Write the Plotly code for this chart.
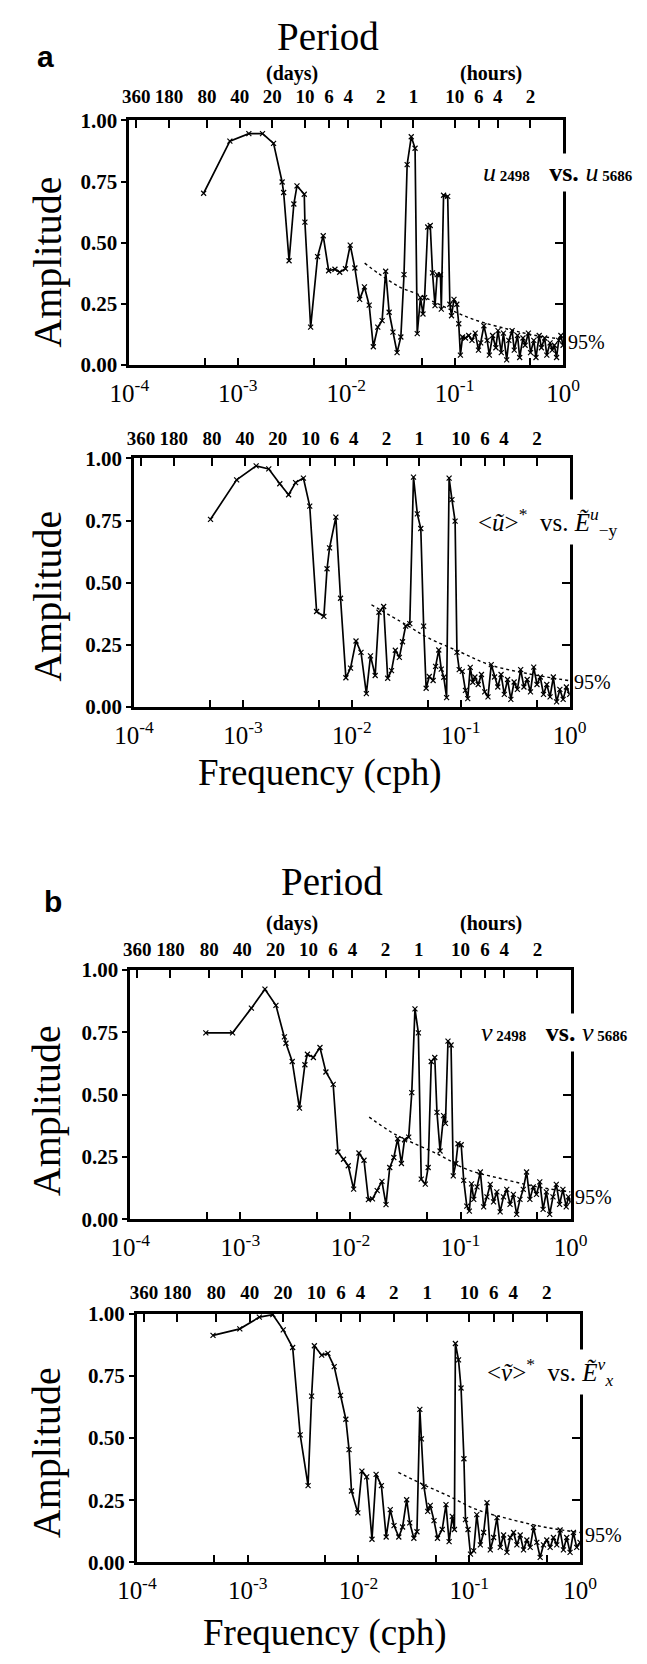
import plotly.graph_objects as go

W, H = 647, 1664

# ---------------- data (log10 frequency in cph, amplitude) ----------------
p1_logf = [-3.315, -3.073, -2.898, -2.772, -2.670, -2.591, -2.577, -2.527, -2.483, -2.454,
           -2.387, -2.381, -2.328, -2.264, -2.212, -2.162, -2.104, -2.060, -2.007, -1.963,
           -1.920, -1.876, -1.832, -1.788, -1.750, -1.709, -1.669, -1.636, -1.604, -1.569,
           -1.531, -1.496, -1.467, -1.438, -1.400, -1.365, -1.345, -1.315, -1.292, -1.277,
           -1.248, -1.225, -1.204, -1.181, -1.161, -1.131, -1.123, -1.102, -1.064, -1.044,
           -1.029, -1.006, -0.980, -0.962, -0.947, -0.927,
           -0.90, -0.87, -0.84, -0.81, -0.78, -0.76, -0.73, -0.70, -0.68, -0.65,
           -0.62, -0.60, -0.57, -0.55, -0.52, -0.50, -0.47, -0.45, -0.42, -0.40,
           -0.37, -0.35, -0.32, -0.30, -0.27, -0.25, -0.22, -0.20, -0.17, -0.15,
           -0.12, -0.10, -0.08, -0.06, -0.04, -0.02, 0.00]
p1_amp = [0.702, 0.915, 0.946, 0.946, 0.906, 0.748, 0.705, 0.426, 0.658, 0.732,
          0.698, 0.584, 0.154, 0.443, 0.528, 0.385, 0.391, 0.379, 0.393, 0.490,
          0.396, 0.268, 0.319, 0.244, 0.074, 0.154, 0.181, 0.383, 0.215, 0.134,
          0.050, 0.114, 0.369, 0.819, 0.933, 0.886, 0.128, 0.275, 0.208, 0.275,
          0.564, 0.570, 0.376, 0.242, 0.369, 0.369, 0.228, 0.694, 0.689, 0.248,
          0.201, 0.268, 0.248, 0.168, 0.040, 0.114,
          0.11, 0.12, 0.10, 0.13, 0.06, 0.09, 0.16, 0.10, 0.04, 0.12,
          0.07, 0.14, 0.05, 0.13, 0.02, 0.10, 0.14, 0.06, 0.12, 0.03,
          0.11, 0.08, 0.13, 0.05, 0.10, 0.03, 0.12, 0.07, 0.11, 0.04,
          0.09, 0.06, 0.08, 0.03, 0.10, 0.12, 0.08]
p1_sig_logf = [-1.83, -1.70, -1.51, -1.34, -1.16, -0.84, -0.50, -0.25, 0.00]
p1_sig_amp = [0.416, 0.373, 0.319, 0.289, 0.251, 0.188, 0.145, 0.120, 0.105]

p2_logf = [-3.298, -3.058, -2.879, -2.763, -2.662, -2.581, -2.517, -2.445, -2.387, -2.324,
           -2.257, -2.228, -2.205, -2.147, -2.104, -2.055, -2.012, -1.962, -1.916, -1.867,
           -1.829, -1.786, -1.751, -1.708, -1.671, -1.636, -1.601, -1.564, -1.535, -1.506,
           -1.468, -1.434, -1.399, -1.367, -1.341, -1.318, -1.289, -1.254, -1.231, -1.202,
           -1.179, -1.156, -1.130, -1.107, -1.081, -1.052, -1.035, -1.014, -0.986, -0.957,
           -0.936, -0.913, -0.890,
           -0.87, -0.84, -0.81, -0.78, -0.75, -0.72, -0.69, -0.66, -0.63, -0.60,
           -0.57, -0.54, -0.51, -0.48, -0.45, -0.42, -0.39, -0.36, -0.33, -0.30,
           -0.27, -0.24, -0.21, -0.18, -0.15, -0.12, -0.09, -0.06, -0.03, 0.00]
p2_amp = [0.755, 0.914, 0.970, 0.958, 0.898, 0.854, 0.903, 0.921, 0.808, 0.384,
          0.364, 0.556, 0.640, 0.764, 0.437, 0.117, 0.156, 0.265, 0.219, 0.053,
          0.205, 0.126, 0.381, 0.404, 0.115, 0.146, 0.228, 0.199, 0.262, 0.325,
          0.335, 0.925, 0.777, 0.718, 0.325, 0.075, 0.122, 0.106, 0.163, 0.229,
          0.152, 0.119, 0.037, 0.921, 0.834, 0.748, 0.219, 0.150, 0.143, 0.066,
          0.033, 0.159, 0.099,
          0.12, 0.09, 0.13, 0.06, 0.04, 0.17, 0.12, 0.08, 0.13, 0.05,
          0.11, 0.03, 0.10, 0.07, 0.15, 0.08, 0.11, 0.06, 0.16, 0.09,
          0.12, 0.05, 0.09, 0.04, 0.12, 0.02, 0.07, 0.03, 0.08, 0.05]
p2_sig_logf = [-1.82, -1.50, -1.30, -1.00, -0.74, -0.40, 0.00]
p2_sig_amp = [0.411, 0.330, 0.278, 0.220, 0.170, 0.135, 0.105]

p3_logf = [-3.314, -3.071, -2.900, -2.777, -2.677, -2.600, -2.586, -2.529, -2.463, -2.414,
           -2.391, -2.337, -2.277, -2.223, -2.157, -2.114, -2.063, -2.020, -1.971, -1.923,
           -1.877, -1.837, -1.800, -1.757, -1.714, -1.677, -1.643, -1.606, -1.571, -1.537,
           -1.509, -1.471, -1.443, -1.414, -1.383, -1.357, -1.320, -1.294, -1.266, -1.234,
           -1.214, -1.186, -1.154, -1.137, -1.114, -1.086, -1.066, -1.043, -1.023, -0.994,
           -0.971, -0.943, -0.920, -0.900,
           -0.88, -0.85, -0.82, -0.79, -0.76, -0.73, -0.70, -0.67, -0.64, -0.61,
           -0.58, -0.55, -0.52, -0.49, -0.46, -0.43, -0.40, -0.37, -0.34, -0.31,
           -0.28, -0.25, -0.22, -0.19, -0.16, -0.13, -0.10, -0.07, -0.04, -0.02, 0.00]
p3_amp = [0.748, 0.748, 0.847, 0.923, 0.858, 0.732, 0.706, 0.633, 0.446, 0.620,
          0.662, 0.649, 0.689, 0.591, 0.541, 0.270, 0.241, 0.215, 0.121, 0.266,
          0.237, 0.079, 0.082, 0.115, 0.152, 0.059, 0.208, 0.248, 0.323, 0.224,
          0.319, 0.330, 0.508, 0.844, 0.748, 0.161, 0.141, 0.208, 0.633, 0.649,
          0.429, 0.274, 0.416, 0.385, 0.715, 0.699, 0.174, 0.224, 0.303, 0.299,
          0.156, 0.053, 0.033, 0.142,
          0.08, 0.13, 0.19, 0.05, 0.09, 0.14, 0.07, 0.11, 0.03, 0.09,
          0.12, 0.06, 0.10, 0.02, 0.08, 0.12, 0.19, 0.08, 0.13, 0.10,
          0.15, 0.04, 0.11, 0.02, 0.09, 0.14, 0.06, 0.12, 0.05, 0.09, 0.07]
p3_sig_logf = [-1.83, -1.63, -1.50, -1.20, -0.94, -0.60, -0.30, 0.00]
p3_sig_amp = [0.410, 0.350, 0.320, 0.260, 0.200, 0.160, 0.130, 0.110]

p4_logf = [-3.313, -3.071, -2.895, -2.773, -2.679, -2.594, -2.526, -2.455, -2.423, -2.398,
           -2.332, -2.276, -2.219, -2.162, -2.114, -2.085, -2.063, -2.006, -1.969, -1.926,
           -1.878, -1.841, -1.793, -1.750, -1.713, -1.679, -1.636, -1.602, -1.565, -1.537,
           -1.500, -1.472, -1.446, -1.432, -1.409, -1.375, -1.352, -1.318, -1.287, -1.244,
           -1.210, -1.182, -1.153, -1.134, -1.125, -1.097, -1.074, -1.048, -1.034, -1.011,
           -0.989, -0.960, -0.932,
           -0.90, -0.87, -0.84, -0.81, -0.78, -0.75, -0.72, -0.69, -0.66, -0.63,
           -0.60, -0.57, -0.54, -0.51, -0.48, -0.45, -0.42, -0.39, -0.36, -0.33,
           -0.30, -0.27, -0.24, -0.21, -0.18, -0.15, -0.12, -0.09, -0.06, -0.03, 0.00]
p4_amp = [0.914, 0.940, 0.987, 0.997, 0.936, 0.865, 0.513, 0.309, 0.669, 0.872,
          0.834, 0.841, 0.788, 0.672, 0.576, 0.454, 0.287, 0.199, 0.367, 0.344,
          0.093, 0.354, 0.309, 0.102, 0.212, 0.148, 0.102, 0.142, 0.252, 0.159,
          0.097, 0.123, 0.616, 0.497, 0.305, 0.205, 0.229, 0.168, 0.097, 0.132,
          0.232, 0.083, 0.185, 0.132, 0.881, 0.815, 0.702, 0.417, 0.172, 0.132,
          0.033, 0.046, 0.192,
          0.07, 0.12, 0.24, 0.05, 0.10, 0.18, 0.06, 0.11, 0.04, 0.10,
          0.12, 0.07, 0.11, 0.05, 0.09, 0.06, 0.14, 0.08, 0.02, 0.07,
          0.09, 0.06, 0.10, 0.07, 0.13, 0.05, 0.10, 0.04, 0.12, 0.06, 0.08]
p4_sig_logf = [-1.64, -1.40, -1.20, -0.93, -0.60, -0.30, 0.00]
p4_sig_amp = [0.362, 0.310, 0.270, 0.212, 0.170, 0.140, 0.120]

# period (top) axis
period_days = [360, 180, 80, 40, 20, 10, 6, 4, 2, 1]
period_hours = [10, 6, 4, 2]
period_labels = ["360", "180", "80", "40", "20", "10", "6", "4", "2", "1", "10", "6", "4", "2"]

freq_tickvals = [1e-4, 5e-4, 1e-3, 5e-3, 1e-2, 5e-2, 1e-1, 5e-1, 1.0]
freq_ticktext = ["10<sup>-4</sup>", "", "10<sup>-3</sup>", "", "10<sup>-2</sup>", "",
                 "10<sup>-1</sup>", "", "10<sup>0</sup>"]
amp_tickvals = [0.0, 0.25, 0.5, 0.75, 1.0]
amp_ticktext = ["0.00", "0.25", "0.50", "0.75", "1.00"]

# ---------------- layout helpers ----------------
SERIF = "Liberation Serif"
SANS = "Liberation Sans"


def px_x(x):
    return x / W


def px_y(y):
    return 1 - y / H


# panel pixel boxes: (left, right, top, bottom) and top-label standoff
boxes = [(116, 576, 110, 358), (121, 583, 453, 705), (117, 584, 972, 1225), (124, 594, 1321, 1573)]
top_standoff = [7, 3, 3, 4]
series = [(p1_logf, p1_amp, p1_sig_logf, p1_sig_amp),
          (p2_logf, p2_amp, p2_sig_logf, p2_sig_amp),
          (p3_logf, p3_amp, p3_sig_logf, p3_sig_amp),
          (p4_logf, p4_amp, p4_sig_logf, p4_sig_amp)]

period_vals = [1.0 / (24 * d) for d in period_days] + [1.0 / h for h in period_hours]

fig = go.Figure()
layout = dict(width=W, height=H, margin=dict(l=0, r=0, t=0, b=0),
              paper_bgcolor="white", plot_bgcolor="white", showlegend=False)

for i, (box, (lf, amp, slf, samp)) in enumerate(zip(boxes, series)):
    xb, xt = 2 * i + 1, 2 * i + 2
    yl, yr = 2 * i + 1, 2 * i + 2
    l, r, t, b = box
    xdom = [px_x(l), px_x(r)]
    ydom = [px_y(b), px_y(t)]
    fig.add_trace(go.Scatter(
        x=[10 ** v for v in lf], y=amp, mode="lines+markers",
        line=dict(color="black", width=1.7),
        marker=dict(symbol="x-thin", size=5, line=dict(color="black", width=1.2)),
        xaxis=f"x{xb}", yaxis=f"y{yl}", hoverinfo="skip"))
    fig.add_trace(go.Scatter(
        x=[10 ** v for v in slf], y=samp, mode="lines",
        line=dict(color="black", width=1.4, dash="dot", shape="spline"),
        xaxis=f"x{xt}", yaxis=f"y{yr}", hoverinfo="skip"))

    common_x = dict(type="log", range=[-4, 0], showgrid=False, zeroline=False,
                    showline=True, linecolor="black", linewidth=2.8)
    layout[f"xaxis{xb}"] = dict(common_x, domain=xdom, anchor=f"y{yl}", side="bottom",
                                ticks="inside", ticklen=7, tickwidth=1.6, tickcolor="black",
                                tickmode="array", tickvals=freq_tickvals, ticktext=freq_ticktext,
                                tickfont=dict(family=SERIF, size=25, color="black"),
                                ticklabelstandoff=4)
    layout[f"xaxis{xt}"] = dict(common_x, overlaying=f"x{xb}", anchor=f"y{yl}", side="top",
                                ticks="inside", ticklen=8, tickwidth=1.6, tickcolor="black",
                                tickmode="array", tickvals=period_vals, ticktext=period_labels,
                                tickfont=dict(family=SERIF, size=19, color="black", weight="bold"),
                                ticklabelstandoff=top_standoff[i])
    common_y = dict(range=[0, 1], showgrid=False, zeroline=False, showline=True,
                    linecolor="black", linewidth=2.8, tickmode="array", tickvals=amp_tickvals)
    layout[f"yaxis{yl}"] = dict(common_y, domain=ydom, anchor=f"x{xb}", side="left",
                                ticks="outside", ticklen=5, tickwidth=1.6, tickcolor="black",
                                ticktext=amp_ticktext,
                                tickfont=dict(family=SERIF, size=21, color="black", weight="bold"))
    layout[f"yaxis{yr}"] = dict(common_y, overlaying=f"y{yl}", anchor=f"x{xb}", side="right",
                                ticks="inside", ticklen=8, tickwidth=1.6, tickcolor="black",
                                showticklabels=False)

fig.update_layout(**layout)

ann = []


def text(x, y, s, size, family=SERIF, xanchor="center", yanchor="middle", bold=False,
         angle=0, bg=None, italic=False):
    d = dict(x=px_x(x), y=px_y(y), xref="paper", yref="paper", text=s, showarrow=False,
             xanchor=xanchor, yanchor=yanchor, textangle=angle,
             font=dict(family=family, size=size, color="black",
                       weight="bold" if bold else "normal",
                       style="italic" if italic else "normal"))
    if bg:
        d["bgcolor"] = bg
        d["borderpad"] = 4
    ann.append(d)


# titles / panel letters
text(327, 25, "Period", 39)
text(331, 882, "Period", 39)
text(27, 45, "a", 30, family=SANS, bold=True)
text(35, 903, "b", 30, family=SANS, bold=True)
for yy in (62, 925):
    text(288, yy, "(days)", 20, bold=True)
    text(500, yy, "(hours)", 20, bold=True)

# axis titles
for yy in (254, 593, 1115, 1462):
    text(29, yy, "Amplitude", 40, angle=-90)
text(318, 772, "Frequency (cph)", 37)
text(323, 1645, "Frequency (cph)", 37)

# series labels
text(486, 163,
     "<i>u</i><span style='font-size:15px'><b> 2498</b></span><b>   vs. </b>"
     "<i>u</i><span style='font-size:15px'><b> 5686</b></span>",
     26, xanchor="left", bg="white")
text(480, 517,
     "&lt;<i>ũ</i>&gt;<sup>*</sup>  vs. <i>Ẽ</i><sup><i>u</i></sup><sub>−y</sub>",
     25, xanchor="left", bg="white")
text(484, 1035,
     "<i>v</i><span style='font-size:15px'><b> 2498</b></span><b>   vs. </b>"
     "<i>v</i><span style='font-size:15px'><b> 5686</b></span>",
     26, xanchor="left", bg="white")
text(490, 1380,
     "&lt;<i>ṽ</i>&gt;<sup>*</sup>  vs. <i>Ẽ</i><sup><i>v</i></sup><sub><i>x</i></sub>",
     25, xanchor="left", bg="white")

# 95% labels
for (xx, yy) in ((579, 335), (585, 680), (587, 1202), (597, 1545)):
    text(xx, yy, "95%", 20, xanchor="left")

fig.update_layout(annotations=ann)
fig.write_html("out.html")
